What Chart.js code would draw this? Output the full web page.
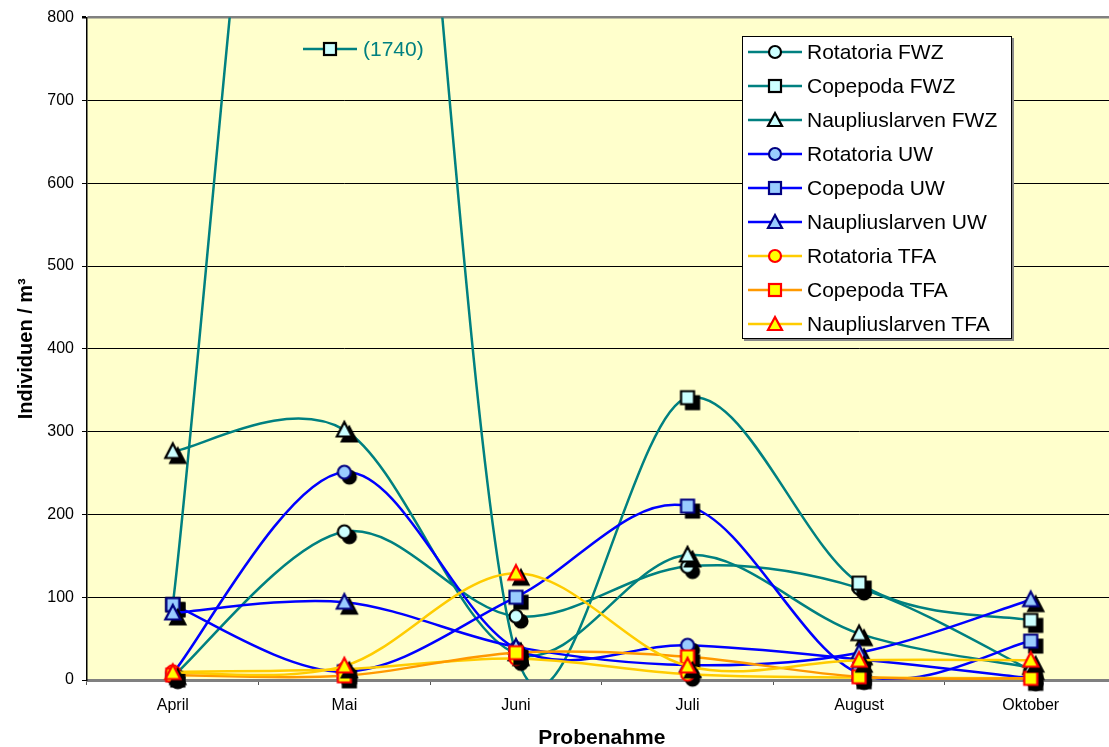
<!DOCTYPE html>
<html>
<head>
<meta charset="utf-8">
<script src="https://cdn.jsdelivr.net/npm/chart.js@4.4.1/dist/chart.umd.min.js"></script>
<style>
  html, body { margin: 0; padding: 0; background: #fff; overflow: hidden; }
  body { width: 1109px; height: 747px; position: relative; font-family: Arial, "Liberation Sans", sans-serif; }
  #wrap { position: absolute; left: 0; top: 0; width: 1125px; height: 747px; }
  #legend { position: absolute; left: 742px; top: 36px; width: 268px; height: 301px; background: #fff;
            border: 1px solid #000; box-shadow: 2px 2px 0 #8a8a8a; }
  .row { position: absolute; left: 0; height: 34px; display: flex; align-items: center; font-size: 21px; color: #000; white-space: nowrap; }
  .row svg { margin-left: 5px; margin-right: 5px; }
  #note { position: absolute; left: 303px; top: 37px; height: 24px; display: flex; align-items: center; color: #008080; font-size: 21px; }
  #note svg { margin-right: 6px; }
</style>
</head>
<body>
<div id="wrap"><canvas id="chart" width="1125" height="747"></canvas></div>
<div id="note"></div>
<div id="legend"></div>
<script>
// values (Individuen / m3)
const categories = ['April', 'Mai', 'Juni', 'Juli', 'August', 'Oktober'];
const rotatoriaFWZ = [4, 179, 77, 137, 111, 12];
const copepodaFWZ = [91, 1740, 32, 341, 117, 72];
const naupliusFWZ = [276, 302, 32, 151, 56, 15];
const rotatoriaUW = [8, 251, 38, 42, 25, 2];
const copepodaUW = [91, 10, 100, 210, 8, 47];
const naupliusUW = [81, 94, 40, 18, 33, 97];
const rotatoriaTFA = [10, 13, 26, 7, 3, 2];
const copepodaTFA = [6, 5, 33, 28, 4, 2];
const naupliusTFA = [9, 17, 129, 17, 24, 24];
const yTicks = [0, 100, 200, 300, 400, 500, 600, 700, 800];
const seriesNames = ['Rotatoria FWZ', 'Copepoda FWZ', 'Naupliuslarven FWZ',
                     'Rotatoria UW', 'Copepoda UW', 'Naupliuslarven UW',
                     'Rotatoria TFA', 'Copepoda TFA', 'Naupliuslarven TFA'];
const seriesValues = [rotatoriaFWZ, copepodaFWZ, naupliusFWZ, rotatoriaUW, copepodaUW, naupliusUW,
                      rotatoriaTFA, copepodaTFA, naupliusTFA];
const offScaleNote = '(1740)';

// line colour, marker shape, marker fill, marker border
const styles = [
    ['#008080', 'circle', '#CCFFFF', '#000000'],
    ['#008080', 'square', '#CCFFFF', '#000000'],
    ['#008080', 'triangle', '#CCFFFF', '#000000'],
    ['#0000FF', 'circle', '#99CCFF', '#000080'],
    ['#0000FF', 'square', '#99CCFF', '#000080'],
    ['#0000FF', 'triangle', '#99CCFF', '#000080'],
    ['#FFCC00', 'circle', '#FFFF00', '#FF0000'],
    ['#FF9900', 'square', '#FFFF00', '#FF0000'],
    ['#FFCC00', 'triangle', '#FFFF00', '#FF0000'],
];

function shapePath(ctx, shape, cx, cy) {
    ctx.beginPath();
    if (shape === 'circle') {
        ctx.arc(cx, cy, 6.5, 0, Math.PI * 2);
    } else if (shape === 'square') {
        ctx.rect(cx - 6.5, cy - 6.5, 13, 13);
    } else {
        ctx.moveTo(cx, cy - 8);
        ctx.lineTo(cx + 7.5, cy + 6.5);
        ctx.lineTo(cx - 7.5, cy + 6.5);
        ctx.closePath();
    }
}

// marker with the black drop shadow Excel puts under it
function makeMarker(shape, fill, stroke) {
    const c = document.createElement('canvas');
    c.width = 36; c.height = 36;
    const ctx = c.getContext('2d');
    ctx.lineWidth = 2.2;
    shapePath(ctx, shape, 23, 23);
    ctx.fillStyle = '#000'; ctx.strokeStyle = '#000';
    ctx.fill(); ctx.stroke();
    shapePath(ctx, shape, 18, 18);
    ctx.fillStyle = fill; ctx.strokeStyle = stroke;
    ctx.fill(); ctx.stroke();
    return c;
}

function iconSvg(style) {
    const [line, shape, fill, stroke] = style;
    let mark;
    if (shape === 'circle') mark = `<circle cx="27" cy="10" r="6"/>`;
    else if (shape === 'square') mark = `<rect x="21" y="4" width="12" height="12"/>`;
    else mark = `<polygon points="27,3 34,16 20,16"/>`;
    return `<svg width="54" height="20" viewBox="0 0 54 20">` +
        `<line x1="0" y1="10" x2="54" y2="10" stroke="${line}" stroke-width="2.5"/>` +
        `<g fill="${fill}" stroke="${stroke}" stroke-width="2.2">${mark}</g></svg>`;
}

// legend and the note for the off-scale May value
const legend = document.getElementById('legend');
seriesNames.forEach((name, i) => {
    const row = document.createElement('div');
    row.className = 'row';
    row.style.top = (i * 33.9 - 1.7) + 'px';
    row.innerHTML = iconSvg(styles[i]) + '<span>' + name + '</span>';
    legend.appendChild(row);
});
document.getElementById('note').innerHTML =
    iconSvg(['#008080', 'square', '#CCFFFF', '#000000']) + '<span>' + offScaleNote + '</span>';

const datasets = seriesValues.map((values, i) => ({
    label: seriesNames[i],
    data: values,
    borderColor: styles[i][0],
    backgroundColor: styles[i][0],
    borderWidth: 2.5,
    tension: 0.4,
    pointStyle: makeMarker(styles[i][1], styles[i][2], styles[i][3]),
    pointRadius: 6,
    clip: 20,
    order: seriesNames.length - i,
}));

// Excel smoothing: tangent along (next - prev), handle length 1/6 of it,
// but never more than half of the segment it sits on; lines clipped to the plot area
const excelSmooth = {
    id: 'excelSmooth',
    beforeDatasetDraw(chart, args) {
        const meta = args.meta;
        const line = meta.dataset;
        line.updateControlPoints(chart.chartArea, meta.iScale.axis);
        const pts = meta.data;
        const n = pts.length;
        const dist = (a, b) => Math.hypot(b.x - a.x, b.y - a.y);
        for (let i = 0; i < n; i++) {
            const p = pts[i];
            const prev = pts[Math.max(i - 1, 0)];
            const next = pts[Math.min(i + 1, n - 1)];
            const tx = next.x - prev.x;
            const ty = next.y - prev.y;
            const len = Math.hypot(tx, ty) || 1;
            const f1 = Math.min(1 / 6, dist(prev, p) / (2 * len));
            const f2 = Math.min(1 / 6, dist(p, next) / (2 * len));
            p.cp1x = p.x - tx * f1; p.cp1y = p.y - ty * f1;
            p.cp2x = p.x + tx * f2; p.cp2y = p.y + ty * f2;
        }
        line._path = undefined;
        if (!line._clipped) {
            const orig = line.draw;
            line.draw = function (ctx, area, ...rest) {
                ctx.save();
                ctx.beginPath();
                ctx.rect(area.left, area.top, area.right - area.left, area.bottom - area.top);
                ctx.clip();
                orig.call(this, ctx, area, ...rest);
                ctx.restore();
            };
            line._clipped = true;
        }
    }
};

const plotBackground = {
    id: 'plotBackground',
    beforeDraw(chart) {
        const a = chart.chartArea;
        const ctx = chart.ctx;
        ctx.save();
        ctx.fillStyle = '#FFFFCC';
        ctx.fillRect(a.left, a.top, a.right - a.left, a.bottom - a.top);
        ctx.restore();
    }
};

Chart.defaults.font.family = 'Arial, "Liberation Sans", sans-serif';
Chart.defaults.color = '#000';

new Chart(document.getElementById('chart'), {
    type: 'line',
    data: { labels: categories, datasets },
    plugins: [plotBackground, excelSmooth],
    options: {
        responsive: false,
        animation: false,
        devicePixelRatio: 1,
        layout: { padding: { top: 17, right: 6, left: 0, bottom: 0 } },
        plugins: {
            legend: { display: false },
            tooltip: { enabled: false },
        },
        scales: {
            x: {
                offset: true,
                grid: { offset: true, drawOnChartArea: false, tickLength: 5, tickColor: '#555' },
                border: { color: '#808080', width: 3 },
                ticks: { font: { size: 16 }, padding: 11, maxRotation: 0 },
                title: { display: true, text: 'Probenahme', font: { size: 21, weight: 'bold', lineHeight: 1 }, padding: { top: 0, bottom: -2 } },
                afterFit(s) { s.height = 67; },
            },
            y: {
                min: 0,
                max: 800,
                afterBuildTicks(s) { s.ticks = yTicks.map(v => ({ value: v })); },
                grid: {
                    color: c => c.tick.value === 800 ? '#808080' : '#000',
                    lineWidth: c => c.tick.value === 800 ? 2.5 : 1,
                    tickLength: 5,
                    tickColor: '#000',
                },
                border: { color: '#000', width: 1.5 },
                ticks: { font: { size: 16 }, padding: 8 },
                title: { display: true, text: 'Individuen / m³', font: { size: 20, weight: 'bold' }, padding: { top: 14, bottom: 0 } },
                afterFit(s) { s.width = 87; },
            },
        },
    },
});
</script>
</body>
</html>
